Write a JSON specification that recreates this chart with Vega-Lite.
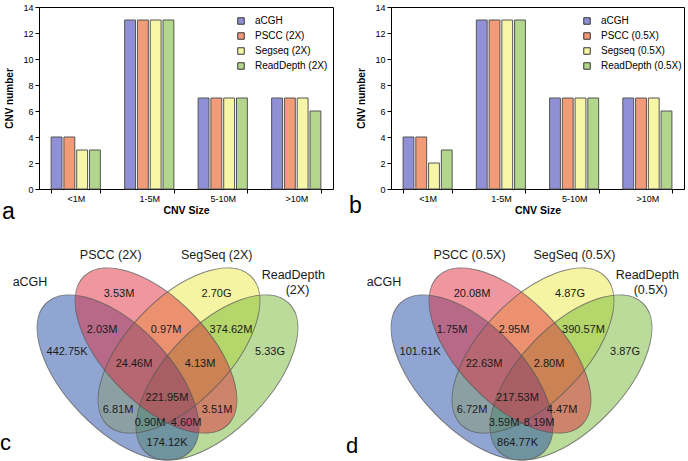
{
  "$schema": "https://vega.github.io/schema/vega-lite/v6.json",
  "padding": {"left": 0, "top": 2, "right": 0, "bottom": 0},
  "config": {
    "font": "Liberation Sans",
    "view": {"stroke": null},
    "axis": {"domainColor": "#000", "tickColor": "#000", "labelColor": "#000", "titleColor": "#000", "grid": false},
    "legend": {"padding": 0}
  },
  "columns": 2,
  "bounds": "flush",
  "align": "none",
  "spacing": {"row": 52, "column": 58},
  "resolve": {
    "scale": {"color": "independent", "fill": "independent", "x": "independent", "y": "independent", "xOffset": "independent"},
    "legend": {"color": "independent", "fill": "independent"}
  },
  "concat": [
    {
      "width": 294,
      "height": 182,
      "view": {"stroke": "#000", "strokeWidth": 1},
      "title": {"text": "a", "orient": "bottom", "anchor": "start", "frame": "bounds", "fontSize": 23, "fontWeight": "normal", "color": "#000", "offset": -15, "dx": -3, "baseline": "top"},
      "data": {"values": [
        {"size": "<1M", "method": "aCGH", "count": 4},
        {"size": "<1M", "method": "PSCC (2X)", "count": 4},
        {"size": "<1M", "method": "Segseq (2X)", "count": 3},
        {"size": "<1M", "method": "ReadDepth (2X)", "count": 3},
        {"size": "1-5M", "method": "aCGH", "count": 13},
        {"size": "1-5M", "method": "PSCC (2X)", "count": 13},
        {"size": "1-5M", "method": "Segseq (2X)", "count": 13},
        {"size": "1-5M", "method": "ReadDepth (2X)", "count": 13},
        {"size": "5-10M", "method": "aCGH", "count": 7},
        {"size": "5-10M", "method": "PSCC (2X)", "count": 7},
        {"size": "5-10M", "method": "Segseq (2X)", "count": 7},
        {"size": "5-10M", "method": "ReadDepth (2X)", "count": 7},
        {"size": ">10M", "method": "aCGH", "count": 7},
        {"size": ">10M", "method": "PSCC (2X)", "count": 7},
        {"size": ">10M", "method": "Segseq (2X)", "count": 7},
        {"size": ">10M", "method": "ReadDepth (2X)", "count": 6}
      ]},
      "mark": {"type": "bar", "stroke": "#555", "strokeWidth": 1},
      "encoding": {
        "x": {"field": "size", "type": "nominal", "sort": ["<1M", "1-5M", "5-10M", ">10M"],
              "scale": {"paddingInner": 0.33, "paddingOuter": 0.165},
              "axis": {"title": "CNV Size", "labelAngle": 0, "labelFontSize": 9, "titleFontSize": 10.5, "titleFontWeight": "bold", "tickBand": "extent", "tickSize": 4, "labelPadding": 1, "titlePadding": 2}},
        "xOffset": {"field": "method", "sort": ["aCGH", "PSCC (2X)", "Segseq (2X)", "ReadDepth (2X)"], "scale": {"paddingInner": 0.15, "paddingOuter": 0}},
        "y": {"field": "count", "type": "quantitative", "scale": {"domain": [0, 14], "nice": false},
              "axis": {"title": "CNV number", "values": [0, 2, 4, 6, 8, 10, 12, 14], "labelFontSize": 9, "titleFontSize": 10, "titleFontWeight": "bold", "tickSize": 4, "labelPadding": 2, "titlePadding": 8}},
        "color": {"field": "method", "type": "nominal",
                  "scale": {"domain": ["aCGH", "PSCC (2X)", "Segseq (2X)", "ReadDepth (2X)"], "range": ["#9090d6", "#f29b78", "#f6f6a6", "#b2d68c"]},
                  "legend": {"title": null, "orient": "none", "legendX": 197, "legendY": 9, "symbolType": "square", "symbolSize": 42, "symbolStrokeColor": "#333", "symbolStrokeWidth": 1, "labelFontSize": 10, "labelOffset": 9, "rowPadding": 3, "labelColor": "#000"}}
      }
    },
    {
      "width": 293,
      "height": 182,
      "view": {"stroke": "#000", "strokeWidth": 1},
      "title": {"text": "b", "orient": "bottom", "anchor": "start", "frame": "bounds", "fontSize": 23, "fontWeight": "normal", "color": "#000", "offset": -21, "dx": -8, "baseline": "top"},
      "data": {"values": [
        {"size": "<1M", "method": "aCGH", "count": 4},
        {"size": "<1M", "method": "PSCC (0.5X)", "count": 4},
        {"size": "<1M", "method": "Segseq (0.5X)", "count": 2},
        {"size": "<1M", "method": "ReadDepth (0.5X)", "count": 3},
        {"size": "1-5M", "method": "aCGH", "count": 13},
        {"size": "1-5M", "method": "PSCC (0.5X)", "count": 13},
        {"size": "1-5M", "method": "Segseq (0.5X)", "count": 13},
        {"size": "1-5M", "method": "ReadDepth (0.5X)", "count": 13},
        {"size": "5-10M", "method": "aCGH", "count": 7},
        {"size": "5-10M", "method": "PSCC (0.5X)", "count": 7},
        {"size": "5-10M", "method": "Segseq (0.5X)", "count": 7},
        {"size": "5-10M", "method": "ReadDepth (0.5X)", "count": 7},
        {"size": ">10M", "method": "aCGH", "count": 7},
        {"size": ">10M", "method": "PSCC (0.5X)", "count": 7},
        {"size": ">10M", "method": "Segseq (0.5X)", "count": 7},
        {"size": ">10M", "method": "ReadDepth (0.5X)", "count": 6}
      ]},
      "mark": {"type": "bar", "stroke": "#555", "strokeWidth": 1},
      "encoding": {
        "x": {"field": "size", "type": "nominal", "sort": ["<1M", "1-5M", "5-10M", ">10M"],
              "scale": {"paddingInner": 0.33, "paddingOuter": 0.165},
              "axis": {"title": "CNV Size", "labelAngle": 0, "labelFontSize": 9, "titleFontSize": 10.5, "titleFontWeight": "bold", "tickBand": "extent", "tickSize": 4, "labelPadding": 1, "titlePadding": 2}},
        "xOffset": {"field": "method", "sort": ["aCGH", "PSCC (0.5X)", "Segseq (0.5X)", "ReadDepth (0.5X)"], "scale": {"paddingInner": 0.15, "paddingOuter": 0}},
        "y": {"field": "count", "type": "quantitative", "scale": {"domain": [0, 14], "nice": false},
              "axis": {"title": "CNV number", "values": [0, 2, 4, 6, 8, 10, 12, 14], "labelFontSize": 9, "titleFontSize": 10, "titleFontWeight": "bold", "tickSize": 4, "labelPadding": 2, "titlePadding": 8}},
        "color": {"field": "method", "type": "nominal",
                  "scale": {"domain": ["aCGH", "PSCC (0.5X)", "Segseq (0.5X)", "ReadDepth (0.5X)"], "range": ["#9090d6", "#f29b78", "#f6f6a6", "#b2d68c"]},
                  "legend": {"title": null, "orient": "none", "legendX": 191, "legendY": 9, "symbolType": "square", "symbolSize": 42, "symbolStrokeColor": "#333", "symbolStrokeWidth": 1, "labelFontSize": 10, "labelOffset": 9, "rowPadding": 3, "labelColor": "#000"}}
      }
    },
    {
      "width": 257,
      "height": 221,
      "layer": [
        {
          "data": {"values": [
            {"set": "SegSeq", "x": 179, "y": 109.5, "angle": 314},
            {"set": "ReadDepth", "x": 217, "y": 136.5, "angle": 314},
            {"set": "aCGH", "x": 118, "y": 136.5, "angle": 46},
            {"set": "PSCC", "x": 156, "y": 109.5, "angle": 46}
          ]},
          "layer": [
            {
              "mark": {"type": "point", "shape": "M-1,0C-1,-0.2761,-0.5523,-0.5,0,-0.5C0.5523,-0.5,1,-0.2761,1,0C1,0.2761,0.5523,0.5,0,0.5C-0.5523,0.5,-1,0.2761,-1,0Z", "filled": true, "size": 42767, "opacity": 1, "fillOpacity": 0.5, "strokeWidth": 0},
              "encoding": {
                "x": {"field": "x", "type": "quantitative", "scale": {"domain": [39, 296], "nice": false, "zero": false}, "axis": null},
                "y": {"field": "y", "type": "quantitative", "scale": {"domain": [0, 221], "reverse": true, "nice": false, "zero": false}, "axis": null},
                "angle": {"field": "angle", "type": "quantitative", "scale": null},
                "fill": {"field": "set", "type": "nominal", "scale": {"domain": ["aCGH", "PSCC", "SegSeq", "ReadDepth"], "range": ["#234ba5", "#e12d3d", "#e9e945", "#75b733"]}, "legend": null}
              }
            },
            {
              "mark": {"type": "point", "shape": "M-1,0C-1,-0.2761,-0.5523,-0.5,0,-0.5C0.5523,-0.5,1,-0.2761,1,0C1,0.2761,0.5523,0.5,0,0.5C-0.5523,0.5,-1,0.2761,-1,0Z", "filled": false, "size": 42767, "opacity": 1, "stroke": "#5a5a5a", "strokeWidth": 1, "strokeOpacity": 0.75},
              "encoding": {
                "x": {"field": "x", "type": "quantitative"},
                "y": {"field": "y", "type": "quantitative"},
                "angle": {"field": "angle", "type": "quantitative", "scale": null}
              }
            }
          ]
        },
        {
          "data": {"values": [
            {"label": "442.75K", "x": 67, "y": 111},
            {"label": "3.53M", "x": 119, "y": 53},
            {"label": "2.70G", "x": 216.5, "y": 53},
            {"label": "5.33G", "x": 270, "y": 111},
            {"label": "2.03M", "x": 102, "y": 89},
            {"label": "0.97M", "x": 166, "y": 89},
            {"label": "374.62M", "x": 231, "y": 89},
            {"label": "24.46M", "x": 134, "y": 123},
            {"label": "4.13M", "x": 200, "y": 123},
            {"label": "221.95M", "x": 167, "y": 157},
            {"label": "6.81M", "x": 118, "y": 168.5},
            {"label": "3.51M", "x": 217, "y": 168.5},
            {"label": "0.90M", "x": 150, "y": 181.5},
            {"label": "4.60M", "x": 186, "y": 181.5},
            {"label": "174.12K", "x": 167, "y": 202}
          ]},
          "mark": {"type": "text", "fontSize": 11, "color": "#1a1a1a"},
          "encoding": {
            "x": {"field": "x", "type": "quantitative"},
            "y": {"field": "y", "type": "quantitative"},
            "text": {"field": "label"}
          }
        },
        {
          "data": {"values": [
            {"label": "aCGH", "x": 30, "y": 40.5},
            {"label": "PSCC (2X)", "x": 110.7, "y": 13.5},
            {"label": "SegSeq (2X)", "x": 216.7, "y": 13.5},
            {"label": "ReadDepth", "x": 293.3, "y": 33.5},
            {"label": "(2X)", "x": 297.5, "y": 48.5}
          ]},
          "mark": {"type": "text", "fontSize": 12.5, "color": "#1a1a1a"},
          "encoding": {
            "x": {"field": "x", "type": "quantitative"},
            "y": {"field": "y", "type": "quantitative"},
            "text": {"field": "label"}
          }
        },
        {
          "data": {"values": [{"label": "c", "x": 0, "y": 209}]},
          "mark": {"type": "text", "fontSize": 22, "align": "left", "baseline": "alphabetic", "color": "#000"},
          "encoding": {
            "x": {"field": "x", "type": "quantitative"},
            "y": {"field": "y", "type": "quantitative"},
            "text": {"field": "label"}
          }
        }
      ]
    },
    {
      "width": 297,
      "height": 221,
      "layer": [
        {
          "data": {"values": [
            {"set": "SegSeq", "x": 179, "y": 109.5, "angle": 314},
            {"set": "ReadDepth", "x": 217, "y": 136.5, "angle": 314},
            {"set": "aCGH", "x": 118, "y": 136.5, "angle": 46},
            {"set": "PSCC", "x": 156, "y": 109.5, "angle": 46}
          ]},
          "layer": [
            {
              "mark": {"type": "point", "shape": "M-1,0C-1,-0.2761,-0.5523,-0.5,0,-0.5C0.5523,-0.5,1,-0.2761,1,0C1,0.2761,0.5523,0.5,0,0.5C-0.5523,0.5,-1,0.2761,-1,0Z", "filled": true, "size": 42767, "opacity": 1, "fillOpacity": 0.5, "strokeWidth": 0},
              "encoding": {
                "x": {"field": "x", "type": "quantitative", "scale": {"domain": [37, 334], "nice": false, "zero": false}, "axis": null},
                "y": {"field": "y", "type": "quantitative", "scale": {"domain": [0, 221], "reverse": true, "nice": false, "zero": false}, "axis": null},
                "angle": {"field": "angle", "type": "quantitative", "scale": null},
                "fill": {"field": "set", "type": "nominal", "scale": {"domain": ["aCGH", "PSCC", "SegSeq", "ReadDepth"], "range": ["#234ba5", "#e12d3d", "#e9e945", "#75b733"]}, "legend": null}
              }
            },
            {
              "mark": {"type": "point", "shape": "M-1,0C-1,-0.2761,-0.5523,-0.5,0,-0.5C0.5523,-0.5,1,-0.2761,1,0C1,0.2761,0.5523,0.5,0,0.5C-0.5523,0.5,-1,0.2761,-1,0Z", "filled": false, "size": 42767, "opacity": 1, "stroke": "#5a5a5a", "strokeWidth": 1, "strokeOpacity": 0.75},
              "encoding": {
                "x": {"field": "x", "type": "quantitative"},
                "y": {"field": "y", "type": "quantitative"},
                "angle": {"field": "angle", "type": "quantitative", "scale": null}
              }
            }
          ]
        },
        {
          "data": {"values": [
            {"label": "101.61K", "x": 66, "y": 111},
            {"label": "20.08M", "x": 118, "y": 53},
            {"label": "4.87G", "x": 216, "y": 53},
            {"label": "3.87G", "x": 271, "y": 111},
            {"label": "1.75M", "x": 98, "y": 89},
            {"label": "2.95M", "x": 160, "y": 89},
            {"label": "390.57M", "x": 229.5, "y": 89},
            {"label": "22.63M", "x": 130, "y": 123},
            {"label": "2.80M", "x": 195, "y": 123},
            {"label": "217.53M", "x": 163.5, "y": 157},
            {"label": "6.72M", "x": 118, "y": 168.5},
            {"label": "4.47M", "x": 208, "y": 168.5},
            {"label": "3.59M", "x": 150, "y": 181.5},
            {"label": "8.19M", "x": 185, "y": 181.5},
            {"label": "864.77K", "x": 163.5, "y": 202}
          ]},
          "mark": {"type": "text", "fontSize": 11, "color": "#1a1a1a"},
          "encoding": {
            "x": {"field": "x", "type": "quantitative"},
            "y": {"field": "y", "type": "quantitative"},
            "text": {"field": "label"}
          }
        },
        {
          "data": {"values": [
            {"label": "aCGH", "x": 30, "y": 40.5},
            {"label": "PSCC (0.5X)", "x": 115.5, "y": 13.5},
            {"label": "SegSeq (0.5X)", "x": 220.5, "y": 13.5},
            {"label": "ReadDepth", "x": 293.3, "y": 33.5},
            {"label": "(0.5X)", "x": 296.7, "y": 48.5}
          ]},
          "mark": {"type": "text", "fontSize": 12.5, "color": "#1a1a1a"},
          "encoding": {
            "x": {"field": "x", "type": "quantitative"},
            "y": {"field": "y", "type": "quantitative"},
            "text": {"field": "label"}
          }
        },
        {
          "data": {"values": [{"label": "d", "x": -8, "y": 212}]},
          "mark": {"type": "text", "fontSize": 22, "align": "left", "baseline": "alphabetic", "color": "#000"},
          "encoding": {
            "x": {"field": "x", "type": "quantitative"},
            "y": {"field": "y", "type": "quantitative"},
            "text": {"field": "label"}
          }
        }
      ]
    }
  ]
}
